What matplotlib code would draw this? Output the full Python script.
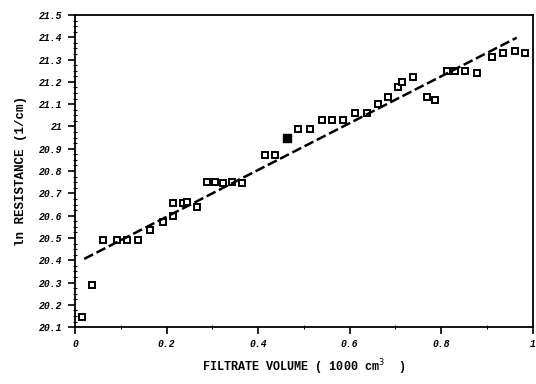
import matplotlib.pyplot as plt
import numpy as np

# filtrate volume (1000 cm^3) and ln resistance
vol = [0.016, 0.038, 0.061, 0.092, 0.114, 0.138, 0.164, 0.192, 0.214, 0.214,
       0.236, 0.245, 0.266, 0.288, 0.306, 0.323, 0.343, 0.365, 0.415, 0.437,
       0.487, 0.513, 0.539, 0.561, 0.585, 0.611, 0.638, 0.662, 0.683,
       0.705, 0.714, 0.738, 0.769, 0.786, 0.812, 0.830, 0.852, 0.878, 0.910,
       0.934, 0.961, 0.983]
ln_res = [20.145, 20.29, 20.49, 20.49, 20.49, 20.49, 20.535, 20.57, 20.60, 20.655,
          20.655, 20.66, 20.64, 20.75, 20.75, 20.745, 20.75, 20.745, 20.87, 20.87,
          20.99, 20.99, 21.03, 21.03, 21.03, 21.06, 21.06, 21.10, 21.13,
          21.175, 21.20, 21.22, 21.13, 21.12, 21.25, 21.25, 21.25, 21.24, 21.31,
          21.33, 21.34, 21.33]
# overlapping points that print as a solid blob
blob_vol = [0.463]
blob_res = [20.95]

# fitted line
fit_x = [0.02, 0.965]
fit_b = 20.385
fit_m = 1.05

fig = plt.figure(figsize=(5.36, 3.84), dpi=100)
ax = fig.add_axes([0.14, 0.148, 0.854, 0.813])

ax.plot(vol, ln_res, 's', mfc='white', mec='black', mew=1.4, ms=4.8)
ax.plot(blob_vol, blob_res, 's', mfc='black', mec='black', ms=6)
fx = np.array(fit_x)
ax.plot(fx, fit_b + fit_m * fx, color='black', lw=1.8, ls=(0, (4, 1.5)))

ax.set_xlim(0, 1)
ax.set_ylim(20.1, 21.5)

tfont = dict(family='Liberation Mono', weight='bold', style='italic', size=7)
ax.set_xticks([0, 0.2, 0.4, 0.6, 0.8, 1.0])
ax.set_xticklabels(['0', '0.2', '0.4', '0.6', '0.8', '1'], **tfont)
ax.set_xticks(np.arange(0, 1.01, 0.1), minor=True)
yt = np.round(np.arange(20.1, 21.51, 0.1), 1)
ax.set_yticks(yt)
ax.set_yticklabels(['%g' % v for v in yt], **tfont)
ax.set_yticks(np.arange(20.1, 21.5, 0.025), minor=True)

ax.tick_params(axis='both', which='major', direction='out', length=5, width=1.2, color='black')
ax.tick_params(axis='both', which='minor', direction='inout', length=3, width=0.8)
ax.tick_params(axis='y', pad=4)
for s in ax.spines.values():
    s.set_linewidth(1.3)

ax.set_xlabel('FILTRATE VOLUME ( 1000 cm$^{3}$  )', family='Liberation Mono',
              weight='bold', size=8.5, labelpad=6)
ax.set_ylabel('ln RESISTANCE (1/cm)', family='Liberation Mono', weight='bold',
              size=9, labelpad=9)

plt.savefig('out.png', dpi=100)
